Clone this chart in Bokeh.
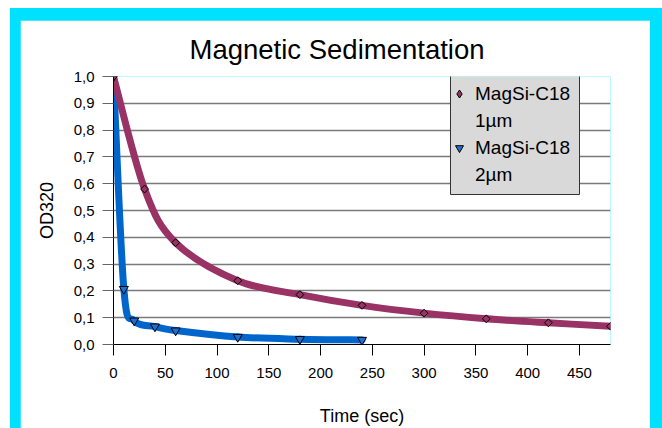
import math
from bokeh.plotting import figure
from bokeh.models import (ColumnDataSource, Legend, LegendItem, BoxAnnotation,
                          FixedTicker, CustomJSTickFormatter, Range1d)
from bokeh.layouts import column
from bokeh.embed import file_html
from bokeh.resources import INLINE

# ---- data ----
time_1um = [0, 30, 60, 120, 180, 240, 300, 360, 420, 480]
od_1um = [1.0, 0.58, 0.38, 0.238, 0.186, 0.146, 0.117, 0.096, 0.081, 0.068]
time_2um = [0, 10, 20, 40, 60, 120, 180, 240]
od_2um = [1.0, 0.207, 0.089, 0.067, 0.052, 0.028, 0.02, 0.017]

x_ticks = [0, 50, 100, 150, 200, 250, 300, 350, 400, 450]
y_ticks = [0.0, 0.1, 0.2, 0.3, 0.4, 0.5, 0.6, 0.7, 0.8, 0.9, 1.0]

series_labels = ["MagSi-C18", "1µm", "MagSi-C18", "2µm"]

PURPLE = "#993366"
BLUE = "#0066CC"
TRI_FILL = "#1F6FD6"
FONT = "Liberation Sans"


def smooth_segments(xs, ys):
    """Bezier segments through the points (Excel-like smoothed line)."""
    n = len(xs)
    d = dict(x0=[], y0=[], x1=[], y1=[], cx0=[], cy0=[], cx1=[], cy1=[])
    for i in range(n - 1):
        ip, inn = max(i - 1, 0), min(i + 2, n - 1)
        d["x0"].append(xs[i]); d["y0"].append(ys[i])
        d["x1"].append(xs[i + 1]); d["y1"].append(ys[i + 1])
        d["cx0"].append(xs[i] + (xs[i + 1] - xs[ip]) / 6)
        d["cy0"].append(ys[i] + (ys[i + 1] - ys[ip]) / 6)
        d["cx1"].append(xs[i + 1] - (xs[inn] - xs[i]) / 6)
        d["cy1"].append(ys[i + 1] - (ys[inn] - ys[i]) / 6)
    return ColumnDataSource(d)


p = figure(width=630, height=408, x_range=Range1d(0, 480), y_range=Range1d(0, 1),
           output_backend="svg", toolbar_location=None,
           min_border_left=93, min_border_right=40, min_border_top=55, min_border_bottom=83,
           title="Magnetic Sedimentation")
p.background_fill_color = "white"
p.border_fill_color = "white"
p.outline_line_color = None

p.title.text_font = FONT
p.title.text_font_size = "27.5px"
p.title.text_font_style = "normal"
p.title.text_color = "black"
p.title.align = "left"
p.title.offset = 76
p.title.standoff = 23

# grid
p.xgrid.visible = False
p.ygrid.ticker = FixedTicker(ticks=y_ticks)
p.ygrid.grid_line_color = "#7a7a7a"
p.ygrid.grid_line_width = 1.3

# axes
p.xaxis.ticker = FixedTicker(ticks=x_ticks)
p.yaxis.ticker = FixedTicker(ticks=y_ticks)
p.yaxis.formatter = CustomJSTickFormatter(code="return tick.toFixed(1).replace('.', ',');")
for ax in (p.xaxis, p.yaxis):
    ax.axis_line_color = "black"
    ax.axis_line_width = 1
    ax.major_tick_in = 0
    ax.major_tick_out = 11
    ax.minor_tick_line_color = None
    ax.major_label_text_font = FONT
    ax.major_label_text_font_size = "15px"
    ax.major_label_text_color = "black"
    ax.axis_label_text_font = FONT
    ax.axis_label_text_font_size = "18px"
    ax.axis_label_text_font_style = "normal"
    ax.axis_label_text_color = "black"
p.xaxis.major_tick_line_color = "black"
p.yaxis.major_tick_line_color = "#666666"
p.xaxis.axis_label = "Time (sec)"
p.yaxis.axis_label = "OD320"
p.xaxis.major_label_standoff = 12
p.yaxis.major_label_standoff = 8
p.xaxis.axis_label_standoff = 25
p.yaxis.axis_label_standoff = 14

# smoothed lines
p.bezier(x0="x0", y0="y0", x1="x1", y1="y1", cx0="cx0", cy0="cy0", cx1="cx1", cy1="cy1",
         source=smooth_segments(time_2um, od_2um), line_color=BLUE, line_width=7, line_cap="round")
p.bezier(x0="x0", y0="y0", x1="x1", y1="y1", cx0="cx0", cy0="cy0", cx1="cx1", cy1="cy1",
         source=smooth_segments(time_1um, od_1um), line_color=PURPLE, line_width=7, line_cap="round")

# markers
r2 = p.scatter(time_2um, od_2um, marker="inverted_triangle", size=9,
               fill_color=TRI_FILL, line_color="black", line_width=1)
# diamond glyph used as legend symbol (drawn under the first marker)
leg1 = p.scatter(time_1um[:1], od_1um[:1], marker="diamond", size=6,
                 fill_color=PURPLE, line_color="black", line_width=1)
r1 = p.scatter(time_1um, od_1um, marker="square", angle=math.pi / 4, size=5.5,
               fill_color=PURPLE, line_color="black", line_width=1)

# label-only legend rows
empty = dict(x=[], y=[])
blank1 = p.scatter("x", "y", source=ColumnDataSource(empty), fill_alpha=0, line_alpha=0)
blank2 = p.scatter("x", "y", source=ColumnDataSource(empty), fill_alpha=0, line_alpha=0)

# legend box
box = BoxAnnotation(left=337, right=466, top=270, bottom=150,
                    left_units="screen", right_units="screen", top_units="screen", bottom_units="screen",
                    fill_color="#D9D9D9", fill_alpha=1, line_color="#333333", line_width=1, line_alpha=1)
p.add_layout(box)

legend = Legend(items=[LegendItem(label=series_labels[0], renderers=[leg1]),
                       LegendItem(label=series_labels[1], renderers=[blank1]),
                       LegendItem(label=series_labels[2], renderers=[r2]),
                       LegendItem(label=series_labels[3], renderers=[blank2])],
                location=(336, 156), padding=0, spacing=0, margin=0,
                glyph_width=20, glyph_height=27, label_height=27, label_standoff=6,
                background_fill_alpha=0, border_line_color=None,
                label_text_font=FONT, label_text_font_size="19px", label_text_color="black")
p.add_layout(legend, "center")

layout = column(p, styles={"background-color": "#00E0FF", "padding": "12px 12px 0px 10px",
                           "margin-left": "10px", "margin-top": "8px"})

open("out.html", "w").write(file_html(layout, INLINE))
